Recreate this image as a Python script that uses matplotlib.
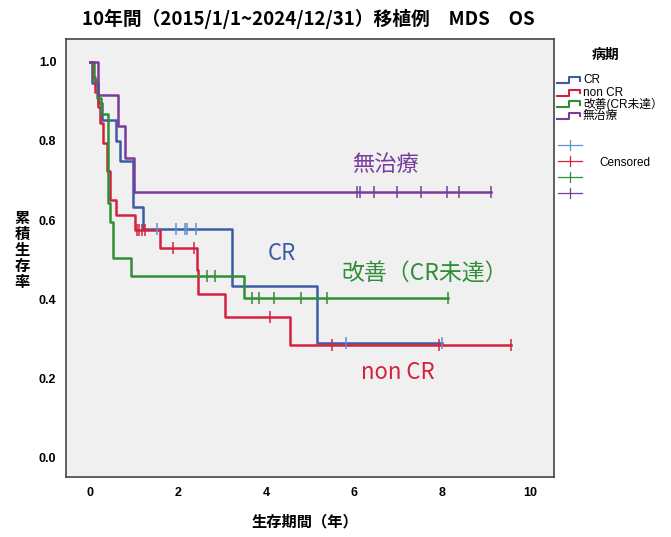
import numpy as np
import matplotlib
matplotlib.use("Agg")
import matplotlib.pyplot as plt
from matplotlib.lines import Line2D

plt.rcParams['font.family'] = ['Liberation Sans', 'Noto Sans CJK JP', 'DejaVu Sans']

# ---------------- data ----------------
groups = ["CR", "non CR", "改善(CR未達）", "無治療"]

cr_times = [0.04, 0.17, 0.28, 0.58, 0.68, 0.98, 1.20, 3.22, 5.15]
cr_surv = [0.947, 0.895, 0.853, 0.800, 0.750, 0.634, 0.578, 0.433, 0.290]
cr_cens = [1.52, 1.95, 2.16, 2.20, 2.41, 5.83, 8.00]

ncr_times = [0.06, 0.12, 0.18, 0.22, 0.29, 0.39, 0.46, 0.58, 1.03, 1.59, 2.42, 2.46, 3.07, 4.55]
ncr_surv = [0.962, 0.923, 0.885, 0.846, 0.795, 0.725, 0.651, 0.613, 0.576, 0.530, 0.473, 0.412, 0.355, 0.285]
ncr_cens = [1.06, 1.12, 1.18, 1.24, 1.89, 2.36, 4.08, 5.51, 7.94, 9.58]

imp_times = [0.08, 0.15, 0.25, 0.40, 0.46, 0.53, 0.92, 3.50]
imp_surv = [0.955, 0.909, 0.868, 0.642, 0.596, 0.503, 0.459, 0.403]
imp_cens = [2.65, 2.84, 3.67, 3.85, 4.17, 4.79, 5.38, 8.14]

non_times = [0.18, 0.63, 0.79, 0.99]
non_surv = [0.917, 0.838, 0.756, 0.672]
non_cens = [6.06, 6.14, 6.45, 6.97, 7.52, 8.11, 8.39, 9.11]

x_ticks = [0, 2, 4, 6, 8, 10]
y_ticks = [0.0, 0.2, 0.4, 0.6, 0.8, 1.0]

title = "10年間（2015/1/1~2024/12/31）移植例　MDS　OS"
xlabel = "生存期間（年）"
ylabel = "累積生存率"
legend_title = "病期"
annotations = ["CR", "non CR", "改善（CR未達）", "無治療"]

# ---------------- style ----------------
line_colors = ["#3D5CA8", "#D4213F", "#2F8F35", "#7A3C9B"]
cens_colors = ["#5D92D3", "#D4213F", "#2F8F35", "#7A3C9B"]

W, H = 671, 537
fig = plt.figure(figsize=(W / 100, H / 100), dpi=100)
fig.patch.set_facecolor("white")
L, R, T, B = 66, 554, 39, 477
ax = fig.add_axes([L / W, 1 - B / H, (R - L) / W, (B - T) / H])
ax.set_facecolor("#F0F0F0")
for s in ax.spines.values():
    s.set_color("#444444")
    s.set_linewidth(1.2)

series = [
    (cr_times, cr_surv, cr_cens),
    (ncr_times, ncr_surv, ncr_cens),
    (imp_times, imp_surv, imp_cens),
    (non_times, non_surv, non_cens),
]

for i, (tt, ss, cc) in enumerate(series):
    end = max(max(cc), tt[-1])
    x = np.array([0.0] + list(tt) + [end])
    y = np.array([1.0] + list(ss) + [ss[-1]])
    ax.step(x, y, where="post", color=line_colors[i], lw=1.8, zorder=3 + i * 0.1)
    xs = np.array([0.0] + list(tt))
    ys = np.array([1.0] + list(ss))
    idx = np.searchsorted(xs, np.array(cc), side="right") - 1
    ax.plot(cc, ys[idx], linestyle="none", marker="|", markersize=8,
            markeredgewidth=1.1, color=cens_colors[i], zorder=4 + i * 0.1)

ax.set_xlim(-0.55, 10.55)
ax.set_ylim(-0.05, 1.058)
ax.set_xticks(x_ticks)
ax.set_xticklabels([str(v) for v in x_ticks])
ax.set_yticks(y_ticks)
ax.set_yticklabels([f"{v:.1f}" for v in y_ticks])
ax.tick_params(length=0, labelsize=9, pad=7)
for lab in ax.get_xticklabels() + ax.get_yticklabels():
    lab.set_fontweight("bold")

# annotations in the plot
ann_pos = [(4.36, 0.516), (7.0, 0.215), (7.61, 0.466), (6.72, 0.74)]
ann_size = [16, 16, 16.5, 16]
for i, txt in enumerate(annotations):
    ax.text(ann_pos[i][0], ann_pos[i][1], txt, color=line_colors[i],
            fontsize=ann_size[i], ha="center", va="center",
            family=["Noto Sans CJK JP", "DejaVu Sans"])

# titles / labels
fig.text(308 / W, 1 - 19 / H, title, ha="center", va="center", fontsize=13.5,
         fontweight="bold", family=["Liberation Sans Narrow", "Noto Sans CJK JP", "DejaVu Sans"])
fig.text(305 / W, 1 - 521 / H, xlabel, ha="center", va="center", fontsize=11,
         fontweight="bold", family=["Noto Sans CJK JP", "DejaVu Sans"])
fig.text(22 / W, 1 - 250 / H, "\n".join(ylabel), ha="center", va="center", fontsize=11,
         fontweight="bold", linespacing=1.0, family=["Noto Sans CJK JP", "DejaVu Sans"])

# ---------------- legend (drawn manually) ----------------
def fx(px):
    return px / W

def fy(py):
    return 1 - py / H

fig.text(fx(606), fy(55), legend_title, ha="center", va="center", fontsize=10,
         fontweight="bold", family=["Noto Sans CJK JP", "DejaVu Sans"])
entry_y = [80, 92.5, 104, 115.5]
for i, g in enumerate(groups):
    yc = entry_y[i]
    xs_ = [557, 569, 569, 580, 580]
    ys_ = [yc + 3, yc + 3, yc - 3, yc - 3, yc + 0.5]
    fig.add_artist(Line2D([fx(v) for v in xs_], [fy(v) for v in ys_],
                          color=line_colors[i], lw=1.5))
    fig.text(fx(583), fy(yc), g, ha="left", va="center", fontsize=8.5,
             family=["Liberation Sans", "Noto Sans CJK JP", "DejaVu Sans"])
cens_y = [145, 161, 177, 193]
for i in range(4):
    yc = cens_y[i]
    fig.add_artist(Line2D([fx(558), fx(582)], [fy(yc), fy(yc)],
                          color=cens_colors[i], lw=0.9))
    fig.add_artist(Line2D([fx(570), fx(570)], [fy(yc - 5), fy(yc + 5)],
                          color=cens_colors[i], lw=0.9))
fig.text(fx(599), fy(163), "Censored", ha="left", va="center", fontsize=8.5,
         family=["Liberation Sans", "DejaVu Sans"])

fig.savefig("out.png", dpi=100, facecolor="white")
